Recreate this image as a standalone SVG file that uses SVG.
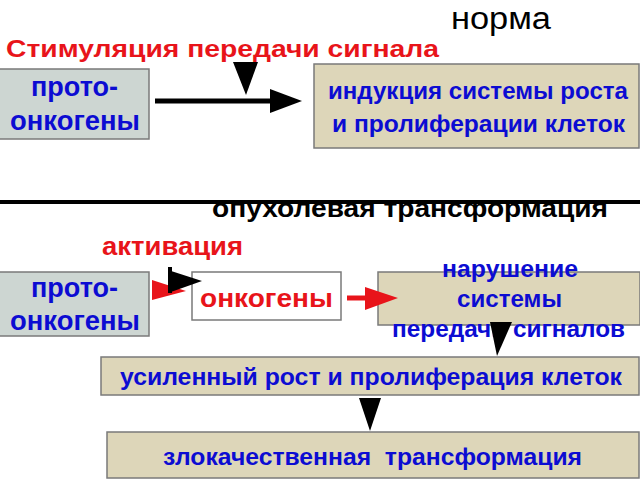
<svg xmlns="http://www.w3.org/2000/svg" width="640" height="480" viewBox="0 0 640 480">
<style>
text{font-family:"Liberation Sans",Arial,sans-serif;font-weight:bold}
.blue{fill:#0c0cd2}
.red{fill:#e8141a}
.grey{fill:#cdd6d2;stroke:#7a7a7a;stroke-width:1.5}
.beige{fill:#ddd6b9;stroke:#7a7a7a;stroke-width:1.5}
.white{fill:#ffffff;stroke:#7a7a7a;stroke-width:1.5}
</style>
<defs>
<clipPath id="cut"><rect x="0" y="201" width="640" height="40"/></clipPath>
</defs>
<rect width="640" height="480" fill="#ffffff"/>
<text x="451" y="29" font-size="31" textLength="100" lengthAdjust="spacingAndGlyphs" style="font-weight:normal" fill="#000">норма</text>
<text x="6" y="57" font-size="24" textLength="433" lengthAdjust="spacingAndGlyphs" class="red">Стимуляция передачи сигнала</text>
<g id="proto1">
<rect class="grey" x="-1" y="69" width="150" height="70"/>
<text x="31" y="96" font-size="27" textLength="87" lengthAdjust="spacingAndGlyphs" class="blue">прото-</text>
<text x="10" y="130" font-size="27" textLength="130" lengthAdjust="spacingAndGlyphs" class="blue">онкогены</text>
</g>
<g id="induction">
<rect class="beige" x="314" y="64" width="325" height="84"/>
<text x="328" y="99" font-size="23" textLength="300" lengthAdjust="spacingAndGlyphs" class="blue">индукция системы роста</text>
<text x="332" y="132" font-size="23" textLength="293" lengthAdjust="spacingAndGlyphs" class="blue">и пролиферации клеток</text>
</g>
<text x="212" y="217" font-size="26" textLength="396" lengthAdjust="spacingAndGlyphs" fill="#000" clip-path="url(#cut)">опухолевая трансформация</text>
<line x1="0" y1="202" x2="640" y2="202" stroke="#000" stroke-width="4"/>
<text x="102" y="255" font-size="25" textLength="141" lengthAdjust="spacingAndGlyphs" class="red">активация</text>
<g id="proto2">
<rect class="grey" x="-1" y="272" width="150" height="64"/>
<text x="31" y="297" font-size="27" textLength="87" lengthAdjust="spacingAndGlyphs" class="blue">прото-</text>
<text x="10" y="330" font-size="27" textLength="130" lengthAdjust="spacingAndGlyphs" class="blue">онкогены</text>
</g>
<g id="oncogenes">
<rect class="white" x="192" y="272" width="149" height="48"/>
<text x="200" y="307" font-size="25" textLength="133" lengthAdjust="spacingAndGlyphs" class="red">онкогены</text>
</g>
<g id="disruption">
<rect class="beige" x="378" y="272" width="262" height="53"/>
<text x="442" y="277" font-size="24" textLength="136" lengthAdjust="spacingAndGlyphs" class="blue">нарушение</text>
<text x="457" y="307" font-size="24" textLength="105" lengthAdjust="spacingAndGlyphs" class="blue">системы</text>
<text x="392" y="337" font-size="24" textLength="233" lengthAdjust="spacingAndGlyphs" class="blue">передачи сигналов</text>
</g>
<g id="growth">
<rect class="beige" x="101" y="357" width="538" height="38"/>
<text x="120" y="385" font-size="24" textLength="502" lengthAdjust="spacingAndGlyphs" class="blue">усиленный рост и пролиферация клеток</text>
</g>
<g id="malignant">
<rect class="beige" x="107" y="432" width="532" height="46"/>
<text x="163" y="465" font-size="24" textLength="419" lengthAdjust="spacingAndGlyphs" class="blue" xml:space="preserve">злокачественная  трансформация</text>
</g>
<g id="connectors">
<line x1="155" y1="101" x2="272" y2="101" stroke="#000" stroke-width="5"/>
<polygon points="270,89 302,101 270,113" fill="#000"/>
<polygon points="233,62 258,62 246,95" fill="#000"/>
<polygon points="152,280 152,300 186,291" fill="#e8141a"/>
<line x1="170" y1="267" x2="170" y2="293" stroke="#000" stroke-width="4"/>
<polygon points="168,270 202,281 168,293" fill="#000"/>
<line x1="347" y1="298" x2="367" y2="298" stroke="#e8141a" stroke-width="5"/>
<polygon points="365,287 398,298 365,310" fill="#e8141a"/>
<polygon points="490,322 512,322 497,356" fill="#000"/>
<polygon points="359,398 381,398 370,431" fill="#000"/>
</g>
</svg>
